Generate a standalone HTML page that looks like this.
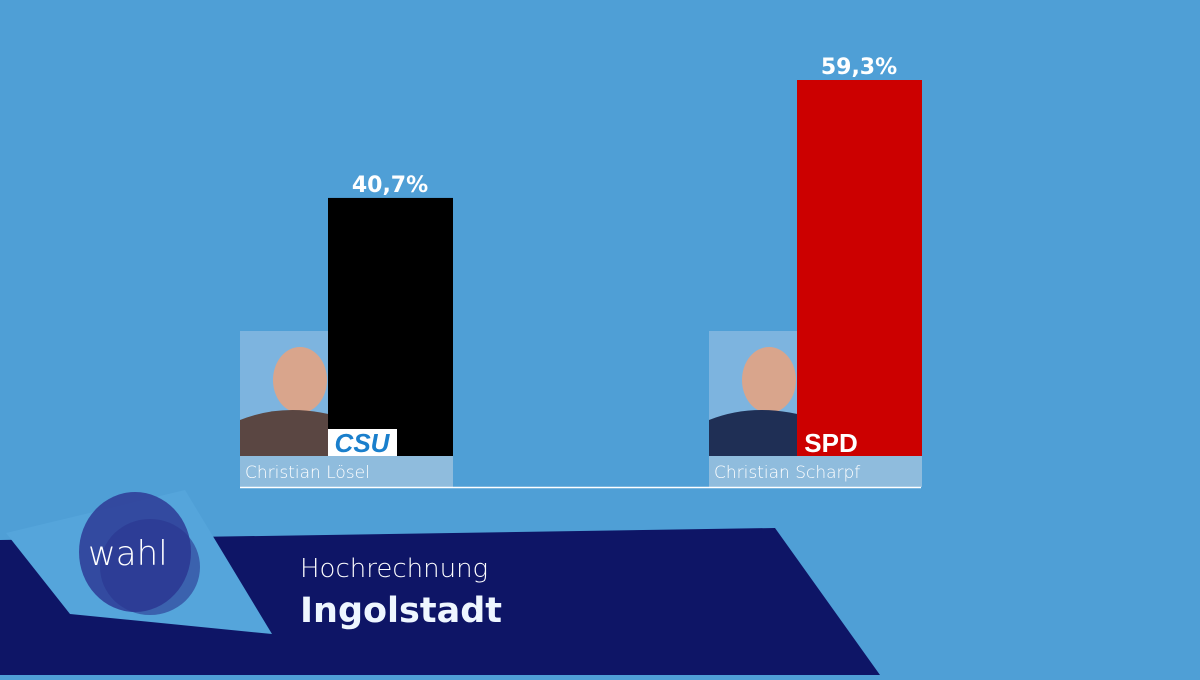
<!DOCTYPE html>
<html><head><meta charset="utf-8"><style>
body{margin:0;width:1200px;height:675px;overflow:hidden;background:#4f9fd6;font-family:"Liberation Sans","DejaVu Sans",sans-serif}
</style></head><body>
<svg width="1200" height="675">
<polygon points="0,540 775,528 880,675 0,675" fill="#0e1566"/>
<polygon points="6,533 185,490 272,634 70,614" fill="#55a5db"/>
<ellipse cx="135" cy="552" rx="56" ry="60" fill="#2e3a95" opacity="0.85"/>
<ellipse cx="150" cy="567" rx="50" ry="48" fill="#2a3590" opacity="0.6"/>
<text x="88" y="565" fill="#fff" font-size="34" font-family="DejaVu Sans" font-weight="200">wahl</text>
<text x="300" y="577" fill="#fff" font-size="26" font-family="DejaVu Sans" font-weight="200">Hochrechnung</text>
<text x="300" y="622" fill="#eef6ff" font-size="35" font-weight="bold" font-family="DejaVu Sans">Ingolstadt</text>
<g id="bars"></g>
<line x1="240" y1="487.5" x2="921" y2="487.5" stroke="#fff" stroke-width="1.5"/>
</svg>
<script>
const candidates=["Christian Lösel","Christian Scharpf"];
const parties=["CSU","SPD"];
const values=[40.7,59.3];
const labels=["40,7%","59,3%"];
const colors=["#000000","#cc0000"];
const g=document.getElementById('bars');
const NS="http://www.w3.org/2000/svg";
const base=456, scale=376/59.3;
const yS=v=>base-v*scale;
function mk(t,a,p){const e=document.createElementNS(NS,t);for(const k in a)e.setAttribute(k,a[k]);(p||g).appendChild(e);return e;}
values.forEach((v,i)=>{
 const x0=240+i*469;
 const bx=x0+88;
 const photo=mk('rect',{x:x0,y:331,width:88,height:125,fill:'#7db4df'});
 
 
 const head=mk('ellipse',{cx:x0+60,cy:380,rx:27,ry:33,fill:'#d9a58c'});
 
 
 const body=mk('path',{d:`M${x0} 420 Q${x0+50} 400 ${x0+110} 420 L${x0+110} 456 L${x0} 456Z`,fill:i?'#1f2f55':'#5a4642'});
 
 
 const bar=mk('rect',{x:bx,y:yS(v),width:125,height:base-yS(v),fill:colors[i]});
 
 
 const lb=mk('rect',{x:bx,y:429,width:69,height:27,fill:i?'#cc0000':'#fff'});
 
 
 const lt=mk('text',{x:bx+34,y:452,'text-anchor':'middle','font-size':26,'font-weight':'bold','font-style':i?'normal':'italic',fill:i?'#fff':'#1a7fcc'});
 lt.textContent=parties[i];
 
 
 const strip=mk('rect',{x:x0,y:456,width:213,height:31,fill:'#8fbcdd'});
 
 
 const nt=mk('text',{x:x0+5,y:478,'font-size':17,fill:'#fff','font-family':'DejaVu Sans','font-weight':'200'});
 nt.textContent=candidates[i];
 
 
 const vt=mk('text',{x:bx+62,y:yS(v)-6,'text-anchor':'middle','font-size':22,'font-weight':'bold',fill:'#fff','font-family':'DejaVu Sans'});
 vt.textContent=labels[i];
 
 
});
</script>
</body></html>
